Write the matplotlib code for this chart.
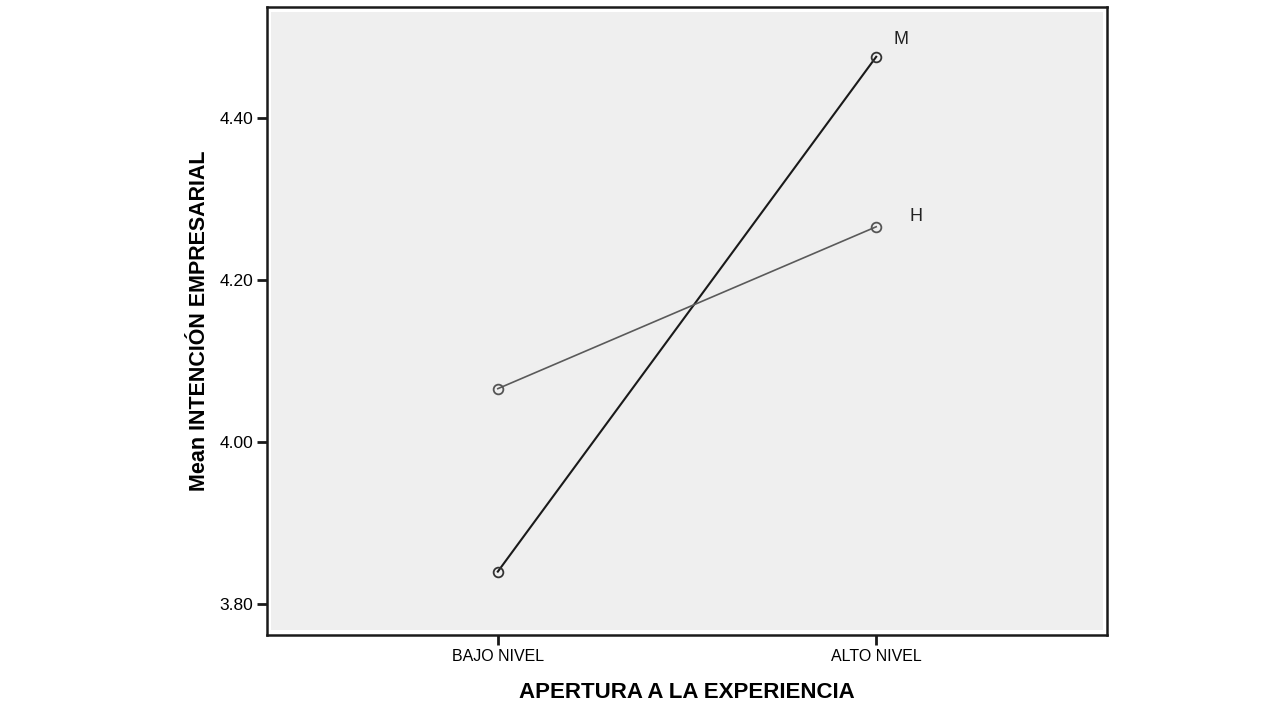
import matplotlib.pyplot as plt
from matplotlib.patches import Rectangle
import numpy as np

plt.rcParams['font.family'] = ['Liberation Sans', 'DejaVu Sans']

categories = ['BAJO NIVEL', 'ALTO NIVEL']
mujeres = [3.840, 4.476]   # M
hombres = [4.066, 4.266]   # H
yticks = [3.80, 4.00, 4.20, 4.40]

fig = plt.figure(figsize=(12.8, 7.2), dpi=100)
ax = fig.add_axes([267 / 1280, 85 / 720, 840 / 1280, 628 / 720])

x = np.arange(len(categories))

# light grey plot area with small white inset gap, SPSS style
ax.set_facecolor('white')
ax.add_patch(Rectangle((0.005, 0.008), 0.99, 0.984, transform=ax.transAxes,
                       facecolor='#efefef', edgecolor='none', zorder=0))

ax.plot(x, mujeres, color='#1a1a1a', lw=1.5, marker='o', ms=7,
        mfc='none', mec='#333333', mew=1.3, zorder=3)
ax.plot(x, hombres, color='#5a5a5a', lw=1.2, marker='o', ms=7,
        mfc='none', mec='#555555', mew=1.3, zorder=3)

ax.annotate('M', (x[-1], mujeres[-1]), xytext=(17, 17), textcoords='offset pixels',
            fontsize=13, ha='left', va='center', color='#222222')
ax.annotate('H', (x[-1], hombres[-1]), xytext=(33, 10), textcoords='offset pixels',
            fontsize=13, ha='left', va='center', color='#222222')

ax.set_xlim(-0.61, 1.61)
ax.set_ylim(3.7617, 4.5375)
ax.set_xticks(x)
ax.set_xticklabels(categories, fontsize=11.5)
ax.set_yticks(yticks)
ax.set_yticklabels([f'{v:.2f}' for v in yticks], fontsize=12.5)
ax.tick_params(axis='both', direction='out', length=7, width=2, color='#1a1a1a', pad=3)

for s in ax.spines.values():
    s.set_linewidth(1.8)
    s.set_color('#1a1a1a')

ax.set_xlabel('APERTURA A LA EXPERIENCIA', fontsize=16, fontweight='bold', labelpad=13)
ax.set_ylabel('Mean INTENCIÓN EMPRESARIAL', fontsize=15.5, fontweight='bold', labelpad=7)

fig.savefig('out.png', dpi=100)
